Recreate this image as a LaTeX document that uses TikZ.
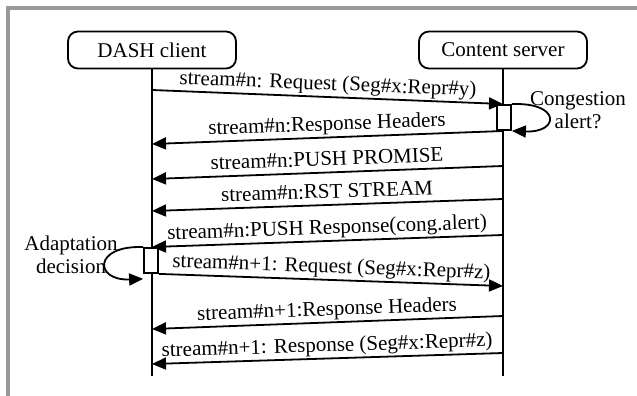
\documentclass[tikz,border=0pt]{standalone}
\usepackage{fontspec}
\setmainfont{Liberation Serif}
\usetikzlibrary{arrows.meta}
\definecolor{framegray}{RGB}{153,153,153}

\begin{document}
\begin{tikzpicture}[x=0.5pt, y=-0.5pt, line width=0.9pt,
    >={Triangle[length=7pt, width=6pt]},
    party/.style={draw, rounded corners=5pt, minimum width=84pt, minimum height=18.5pt,
        font=\fontsize{10.5}{12}\selectfont},
    activity/.style={draw, fill=white, minimum width=7pt, minimum height=12.5pt, inner sep=0pt},
    msg/.style={sloped, above, inner sep=0.5pt, text depth=2.5pt,
        font=\fontsize{10.5}{12}\selectfont},
    remark/.style={align=center, font=\fontsize{10.5}{11.5}\selectfont}]

    \useasboundingbox (0,0) rectangle (637,396);
    \draw[framegray, line width=2pt] (8,396) -- (8,8) -- (637,8);

    \node[party] (client) at (152,50) {DASH client};
    \node[party] (server) at (503,50) {Content server};

    \coordinate (clientend) at (152,376);
    \coordinate (serverend) at (503,376);
    \draw (client) -- (clientend);
    \draw (server) -- (serverend);

    \node[activity] (srvact) at (504,117.5) {};
    \node[activity] (cliact) at (151,260.5) {};

    \node[remark] (congestion) at (578,110) {Congestion\\alert?};
    \node[remark] (adaptation) at (71,255) {Adaptation\\decision};

    % message end points on the lifelines
    \coordinate (c1) at (152,90);   \coordinate (s1) at (503,104);
    \coordinate (s2) at (503,131);  \coordinate (c2) at (152,144);
    \coordinate (s3) at (503,166);  \coordinate (c3) at (152,179);
    \coordinate (s4) at (503,199);  \coordinate (c4) at (152,211);
    \coordinate (s5) at (503,235);  \coordinate (c5) at (152,247);
    \coordinate (s6) at (503,286);
    \coordinate (s7) at (503,316);  \coordinate (c7) at (152,329);
    \coordinate (s8) at (503,353);  \coordinate (c8) at (152,364);

    \path[->]
        (c1) edge node[msg] {stream\#n: Request (Seg\#x:Repr\#y)} (s1)
        (s2) edge node[msg] {stream\#n:Response Headers} (c2)
        (s3) edge node[msg] {stream\#n:PUSH PROMISE} (c3)
        (s4) edge node[msg] {stream\#n:RST STREAM} (c4)
        (s5) edge node[msg] {stream\#n:PUSH Response(cong.alert)} (c5)
        (cliact.south east) edge node[msg] {stream\#n+1: Request (Seg\#x:Repr\#z)} (s6)
        (s7) edge node[msg] {stream\#n+1:Response Headers} (c7)
        (s8) edge node[msg] {stream\#n+1: Response (Seg\#x:Repr\#z)} (c8);

    % self loops
    \draw[->] (srvact.north east) .. controls +(49,-2) and +(48,2) .. (srvact.south east);
    \draw[->] (cliact.north west) .. controls +(-50,-2) and +(-49,2) .. ([yshift=-2.5pt]cliact.south west);

\end{tikzpicture}
\end{document}
